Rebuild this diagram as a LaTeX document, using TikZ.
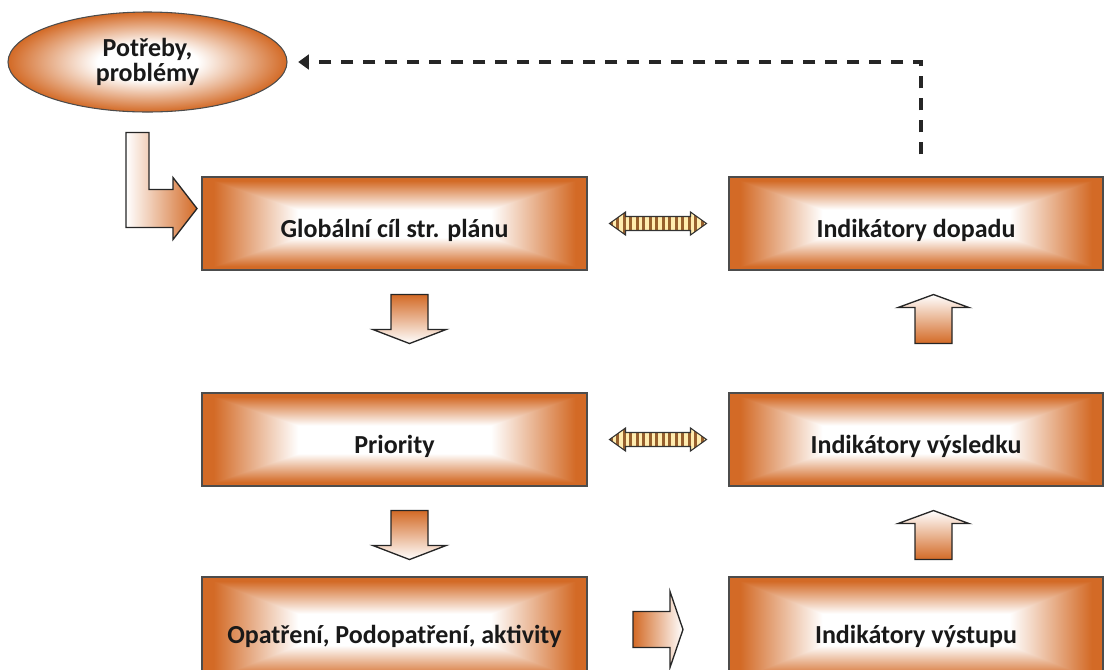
\documentclass[tikz,border=0pt]{standalone}
\usepackage{fontspec}
\setmainfont{Carlito}
\usetikzlibrary{arrows.meta,calc,shapes.geometric}

\definecolor{boxorange}{RGB}{211,106,38}
\definecolor{stripebrown}{RGB}{150,95,45}
\definecolor{stripecream}{RGB}{255,236,175}

% orange rim fading to a white middle (rectangular)
\pgfdeclarefunctionalshading{boxfill}{\pgfpointorigin}{\pgfpoint{100bp}{100bp}}{}{
  50 sub abs 25 div 0.3 sub 0.62 div
  exch 50 sub abs 25 div 0.5 sub 0.44 div
  2 copy lt {exch} if pop
  dup 0 lt {pop 0} if dup 1 gt {pop 1} if
  dup 0.173 mul 1 exch sub exch
  dup 0.584 mul 1 exch sub exch
  0.851 mul 1 exch sub
}
\pgfdeclareradialshading{needfill}{\pgfpointorigin}{color(0bp)=(white); color(9bp)=(white); color(25bp)=(boxorange); color(50bp)=(boxorange)}

\begin{document}
\begin{tikzpicture}[x=0.75pt,y=-0.75pt,
  box/.style={draw=black!70,line width=0.8pt,shading=boxfill,minimum height=69.75pt,
    font=\fontsize{19.5}{22}\selectfont\bfseries,text=black!90,
    text height=25pt,text depth=4pt},
  need/.style={ellipse,draw=black!70,line width=0.8pt,shading=needfill,
    minimum width=209.25pt,minimum height=75pt,align=center,
    font=\fontsize{19.5}{19}\selectfont\bfseries,text=black!90},
  blockarr/.style={draw=black!85,line width=1pt,line join=miter},
  stripes/.style={draw=black!80,line width=0.8pt,fill=stripecream,
    path picture={\foreach \s in {0,...,14}
      \fill[stripebrown] (-48.5+6.5*\s,-12) rectangle ++(3,24);}},
  feedback/.style={line width=2.8pt,black!85,dash pattern=on 9pt off 7.5pt,
    -{Triangle[length=8pt,width=11pt]}}]

  \useasboundingbox (0,0) rectangle (1106,669);

  \node[need] (N) at (147.5,62) {Potřeby,\\problémy};

  \node[box,minimum width=288.75pt] (G) at (394.5,223.5) {Globální cíl str. plánu};
  \node[box,minimum width=280.5pt] (D) at (916,223.5) {Indikátory dopadu};
  \node[box,minimum width=288.75pt] (P) at (394.5,439.5) {Priority};
  \node[box,minimum width=280.5pt] (V) at (916,439.5) {Indikátory výsledku};
  \node[box,minimum width=288.75pt,minimum height=78.75pt] (O) at (394.5,629.5) {Opatření, Podopatření, aktivity};
  \node[box,minimum width=280.5pt,minimum height=78.75pt] (S) at (916,629.5) {Indikátory výstupu};

  % needs -> global goal
  \draw[blockarr,left color=white,right color=boxorange] ($(N.south)+(-21.5,20)$)
    -- ++(23,0) -- ++(0,57) -- ++(24,0) -- ++(0,-12) -- ++(24,31) -- ++(-24,31)
    -- ++(0,-12) -- ++(-47,0) -- cycle;

  % down the left column
  \foreach \a in {G,P}
    \draw[blockarr,top color=boxorange,bottom color=white] ($(\a.south)+(-3.5,24)$)
      -- ++(37,0) -- ++(0,35) -- ++(18,0) -- ++(-36.5,14) -- ++(-36.5,-14) -- ++(18,0) -- cycle;

  % up the right column
  \foreach \a in {D,V}
    \draw[blockarr,top color=white,bottom color=boxorange] ($(\a.south)+(17.5,24)$)
      -- ++(35.5,13) -- ++(-17,0) -- ++(0,36) -- ++(-37,0) -- ++(0,-36) -- ++(-17,0) -- cycle;

  % activities -> outputs
  \draw[blockarr,left color=boxorange,right color=white] ($(O.east)!0.5!(S.west)+(-25,-18)$)
    -- ++(37,0) -- ++(0,-20) -- ++(13,38) -- ++(-13,38) -- ++(0,-20) -- ++(-37,0) -- cycle;

  % two-way links
  \foreach \a/\b in {G/D,P/V}
    \draw[stripes,shift={($(\a.east)!0.5!(\b.west)$)}] (-48.5,0) -- (-32.5,-11.5) -- (-32.5,-7)
      -- (32.5,-7) -- (32.5,-11.5) -- (48.5,0) -- (32.5,11.5) -- (32.5,7) -- (-32.5,7)
      -- (-32.5,11.5) -- cycle;

  % feedback to needs
  \coordinate (back) at ($(D.north)+(5,-22)$);
  \draw[feedback,shorten >=8pt] (back) |- (N);
\end{tikzpicture}
\end{document}
